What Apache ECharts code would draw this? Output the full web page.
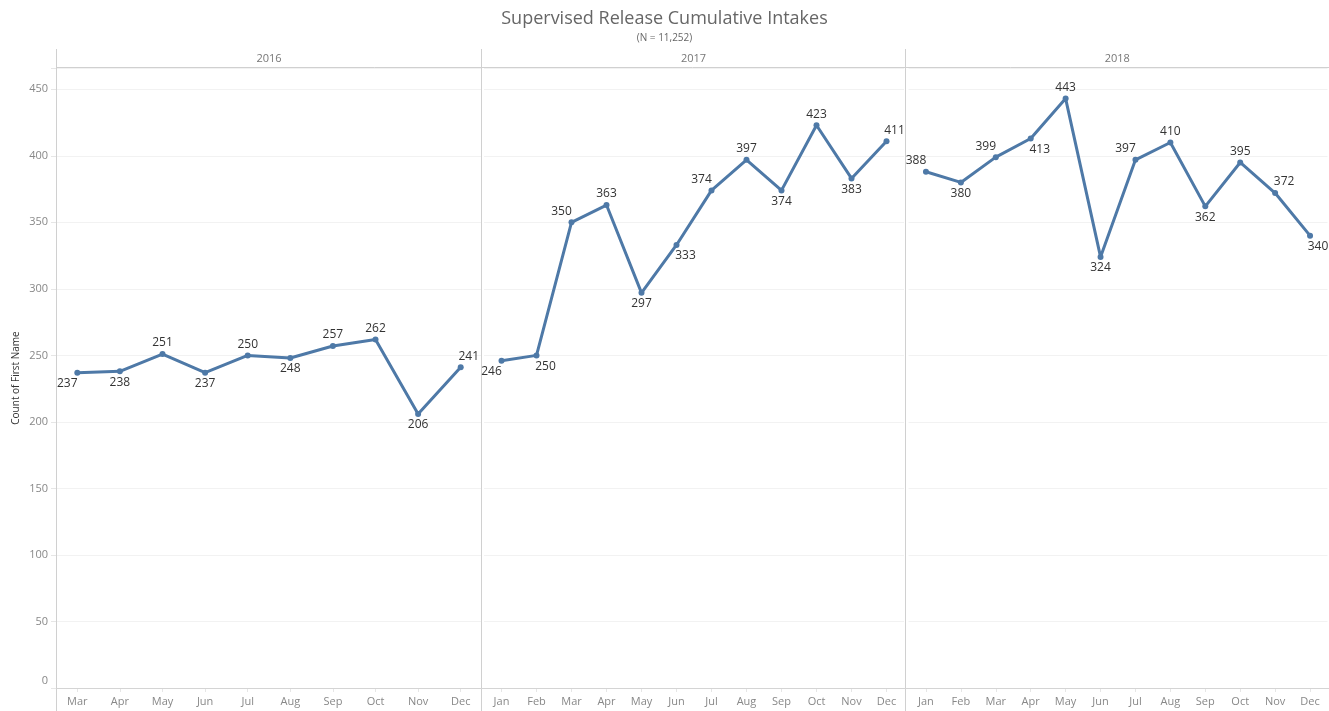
<!DOCTYPE html>
<html>
<head>
<meta charset="utf-8">
<script src="https://cdn.jsdelivr.net/npm/echarts@6/dist/echarts.min.js"></script>
<style>html,body{margin:0;padding:0;background:#fff}#c{width:1329px;height:711px}</style>
</head>
<body>
<div id="c"></div>
<script>
const years = ['2016', '2017', '2018'];
const months2016 = ['Mar', 'Apr', 'May', 'Jun', 'Jul', 'Aug', 'Sep', 'Oct', 'Nov', 'Dec'];
const values2016 = [237, 238, 251, 237, 250, 248, 257, 262, 206, 241];
const months2017 = ['Jan', 'Feb', 'Mar', 'Apr', 'May', 'Jun', 'Jul', 'Aug', 'Sep', 'Oct', 'Nov', 'Dec'];
const values2017 = [246, 250, 350, 363, 297, 333, 374, 397, 374, 423, 383, 411];
const months2018 = ['Jan', 'Feb', 'Mar', 'Apr', 'May', 'Jun', 'Jul', 'Aug', 'Sep', 'Oct', 'Nov', 'Dec'];
const values2018 = [388, 380, 399, 413, 443, 324, 397, 410, 362, 395, 372, 340];
const yTickStep = 50;

const FONT = '"Open Sans", sans-serif';
const LINE = '#4e79a7';

function labelFor(vals, i) {
  const v = vals[i], p = vals[i - 1], n = vals[i + 1];
  let above;
  if (p === undefined) above = v >= n;
  else if (n === undefined) above = v >= p;
  else above = v >= (p + n) / 2;
  let dx = 0;
  if (p === undefined) dx = -10;
  else if (n === undefined) dx = 8;
  else if ((p < v && v < n) || (p > v && v > n)) {
    if (Math.abs(n - p) > 20) {
      const rising = n > p;
      dx = (above === rising) ? -10 : 9;
    }
  }
  return { position: above ? 'top' : 'bottom', offset: [dx, 0] };
}
function buildData(vals) {
  return vals.map((v, i) => ({ value: v, label: labelFor(vals, i) }));
}

const panels = [
  { months: months2016, values: values2016, left: 56, width: 426 },
  { months: months2017, values: values2017, left: 484, width: 420 },
  { months: months2018, values: values2018, left: 908.5, width: 419 }
];
const TOP = 68, BOTTOM = 23;
const sepX = [56.5, 481.5, 905.5];

const option = {
  backgroundColor: '#fff',
  animation: false,
  textStyle: { fontFamily: FONT },
  title: [
    { text: 'Supervised Release Cumulative Intakes', left: 'center', top: 5,
      textStyle: { fontSize: 18, fontWeight: 'normal', color: '#666', fontFamily: FONT } },
    { text: '(N = 11,252)', left: 'center', top: 28,
      textStyle: { fontSize: 10, fontWeight: 'normal', color: '#666', fontFamily: FONT } }
  ],
  grid: panels.map(p => ({ left: p.left, width: p.width, top: TOP, bottom: BOTTOM, containLabel: false })),
  xAxis: panels.map((p, i) => ({
    type: 'category', gridIndex: i, data: p.months, boundaryGap: true,
    axisLine: { show: true, lineStyle: { color: '#d4d4d4', width: 1 } },
    axisTick: { show: true, alignWithLabel: true, length: 4, lineStyle: { color: '#e6e6e6' } },
    axisLabel: { margin: 8, color: '#888', fontSize: 11, fontFamily: FONT },
    splitLine: { show: false }
  })),
  yAxis: panels.map((p, i) => ({
    type: 'value', gridIndex: i, min: 0, max: 466, interval: yTickStep,
    name: i === 0 ? 'Count of First Name' : '', nameLocation: 'middle', nameGap: 35, nameRotate: 90,
    nameTextStyle: { fontSize: 10, color: '#333', fontFamily: FONT },
    axisLine: { show: false },
    axisTick: { show: i === 0, length: 5, lineStyle: { color: '#e6e6e6' } },
    axisLabel: {
      show: i === 0, margin: 8, color: '#888', fontSize: 11, fontFamily: FONT,
      formatter: v => (v % yTickStep === 0 ? (v === 0 ? '{z|0}' : String(v)) : ''),
      rich: { z: { padding: [0, 0, 14, 0], color: '#888', fontSize: 11, fontFamily: FONT } }
    },
    splitLine: { show: true, lineStyle: { color: '#f2f2f2', width: 1 } }
  })),
  series: panels.map((p, i) => ({
    type: 'line', xAxisIndex: i, yAxisIndex: i,
    data: buildData(p.values),
    symbol: 'circle', symbolSize: 6,
    itemStyle: { color: LINE },
    lineStyle: { color: LINE, width: 3 },
    label: { show: true, fontSize: 12, color: '#333', distance: 2, fontFamily: FONT },
    z: 3
  })),
  graphic: [
    ...sepX.map(x => ({ type: 'line', shape: { x1: x, y1: 49, x2: x, y2: 711 },
      style: { stroke: '#d0d0d0', lineWidth: 1 }, z: 1 })),
    { type: 'line', shape: { x1: 56, y1: 67.5, x2: 1329, y2: 67.5 }, style: { stroke: '#d0d0d0', lineWidth: 1 }, z: 1 },
    { type: 'line', shape: { x1: 56, y1: 688.5, x2: 1329, y2: 688.5 }, style: { stroke: '#d4d4d4', lineWidth: 1 }, z: 1 },
    ...years.map((y, i) => ({ type: 'text', x: (sepX[i] + (i < 2 ? sepX[i + 1] : 1329)) / 2, y: 58.5,
      style: { text: y, fill: '#777', fontSize: 11, fontFamily: FONT, textAlign: 'center', textVerticalAlign: 'middle' } }))
  ]
};

echarts.init(document.getElementById('c')).setOption(option);
</script>
</body>
</html>
